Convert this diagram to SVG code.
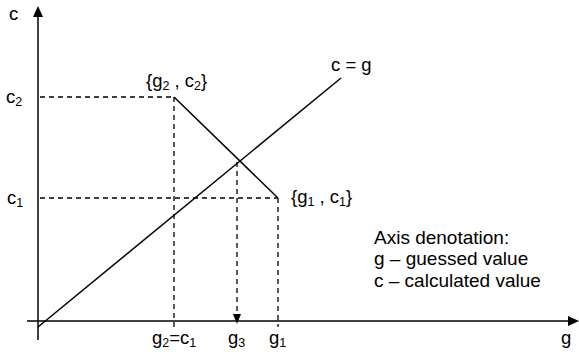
<svg xmlns="http://www.w3.org/2000/svg" width="579" height="354" viewBox="0 0 579 354">
<defs>
<style>
.ax{stroke:#000;stroke-width:1.5;fill:none}
.sol{stroke:#000;stroke-width:1.5;fill:none}
.dash{stroke:#000;stroke-width:1.3;fill:none;stroke-dasharray:5 4}
text{font-family:"Liberation Sans",Arial,sans-serif;font-size:18.5px;fill:#000}
.sub{font-size:12.5px}
.note{font-size:19px}
</style>
</defs>
<rect width="579" height="354" fill="#fff"/>
<g id="connectors">
<line class="ax" x1="38" y1="340" x2="38" y2="15"/>
<polygon points="38,6 33,17 43,17" fill="#000"/>
<line class="ax" x1="27" y1="321" x2="569" y2="321"/>
<polygon points="579,321 568,316 568,326" fill="#000"/>
<line class="sol" x1="38" y1="327" x2="341" y2="78"/>
<line class="sol" x1="174" y1="97" x2="278" y2="198"/>
<line class="dash" x1="40" y1="97" x2="174" y2="97"/>
<line class="dash" x1="40" y1="198" x2="278" y2="198"/>
<line class="dash" x1="174" y1="97" x2="174" y2="327"/>
<line class="dash" x1="278" y1="198" x2="278" y2="327"/>
<line class="dash" x1="237" y1="162" x2="237" y2="314"/>
<polygon points="237,324 233,314 241,314" fill="#000"/>
</g>
<g id="axis-labels">
<text x="9" y="20">c</text>
<text x="561" y="344">g</text>
</g>
<g id="c2-label"><text x="6" y="103">c<tspan class="sub" dy="3">2</tspan></text></g>
<g id="c1-label"><text x="7" y="204">c<tspan class="sub" dy="3">1</tspan></text></g>
<g id="p2"><text x="146" y="87">{g<tspan class="sub" dy="3">2</tspan><tspan dy="-3"> , c</tspan><tspan class="sub" dy="3">2</tspan><tspan dy="-3">}</tspan></text></g>
<g id="p1"><text x="291" y="203">{g<tspan class="sub" dy="3">1</tspan><tspan dy="-3"> , c</tspan><tspan class="sub" dy="3">1</tspan><tspan dy="-3">}</tspan></text></g>
<g id="line-label"><text x="331" y="71">c = g</text></g>
<g id="g2c1"><text x="152" y="344">g<tspan class="sub" dy="3">2</tspan><tspan dy="-3">=c</tspan><tspan class="sub" dy="3">1</tspan></text></g>
<g id="g3"><text x="228" y="344">g<tspan class="sub" dy="3">3</tspan></text></g>
<g id="g1"><text x="269" y="344">g<tspan class="sub" dy="3">1</tspan></text></g>
<g id="legend">
<text class="note" x="374" y="244">Axis denotation:</text>
<text class="note" x="374" y="265">g – guessed value</text>
<text class="note" x="374" y="287">c – calculated value</text>
</g>
</svg>
